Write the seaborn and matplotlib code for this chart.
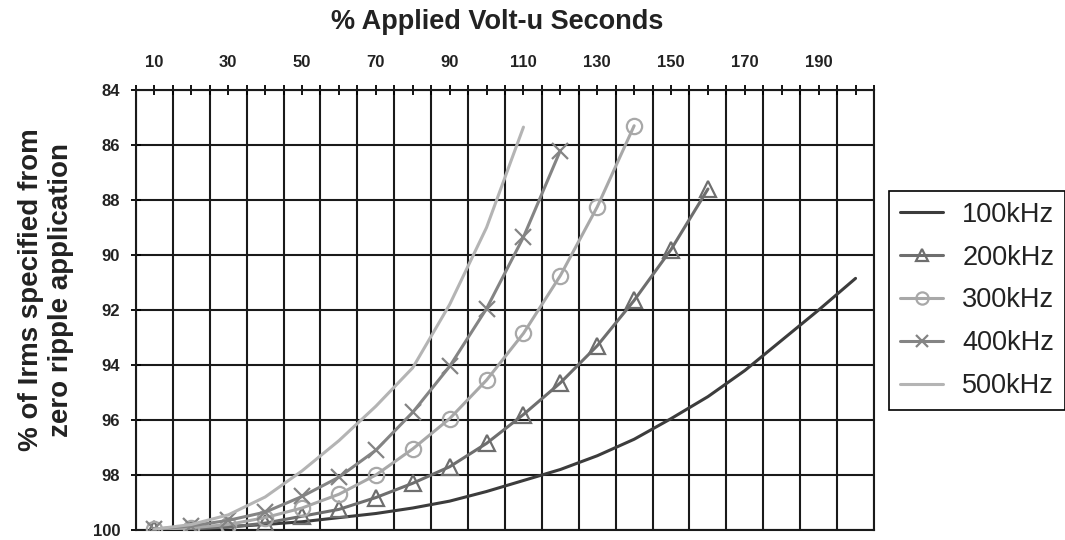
#!/usr/bin/env python3
import seaborn as sns
from matplotlib import pyplot as plt
from matplotlib.ticker import FixedLocator, FixedFormatter

# % applied volt-u seconds (category positions)
volt_seconds = [10, 20, 30, 40, 50, 60, 70, 80, 90, 100,
                110, 120, 130, 140, 150, 160, 170, 180, 190, 200]

# % of Irms specified from zero ripple application, per switching frequency
irms_100k = [100.0, 99.95, 99.88, 99.8, 99.7, 99.55, 99.4, 99.2, 98.95, 98.6,
             98.2, 97.8, 97.3, 96.7, 95.95, 95.15, 94.2, 93.1, 92.0, 90.85]
irms_200k = [99.95, 99.95, 99.9, 99.75, 99.5, 99.25, 98.82, 98.3, 97.7, 96.85,
             95.8, 94.65, 93.3, 91.65, 89.8, 87.6]
irms_300k = [99.98, 99.92, 99.8, 99.55, 99.2, 98.7, 98.0, 97.05, 95.95, 94.55,
             92.85, 90.75, 88.25, 85.3]
irms_400k = [99.97, 99.85, 99.65, 99.35, 98.78, 98.08, 97.1, 95.72, 94.05, 91.95,
             89.35, 86.2]
irms_500k = [99.97, 99.8, 99.45, 98.8, 97.85, 96.75, 95.5, 94.1, 91.8, 89.0,
             85.35]

series_names = ["100kHz", "200kHz", "300kHz", "400kHz", "500kHz"]
series_values = [irms_100k, irms_200k, irms_300k, irms_400k, irms_500k]
series_colors = ["#3c3c3c", "#6e6e6e", "#a8a8a8", "#848484", "#b4b4b4"]
series_markers = [None, "^", "o", "x", None]

x_tick_labels = ["10", "", "30", "", "50", "", "70", "", "90", "", "110", "",
                 "130", "", "150", "", "170", "", "190", ""]
y_ticks = [84, 86, 88, 90, 92, 94, 96, 98, 100]

sns.set_theme(style="white")
plt.rcParams["font.family"] = ["Liberation Sans", "DejaVu Sans"]

fig = plt.figure(figsize=(10.65, 5.4), dpi=100)
ax = fig.add_axes([136 / 1065, 10 / 540, 738 / 1065, 440 / 540])

for name, vals, col, mk in zip(series_names, series_values, series_colors, series_markers):
    xs = volt_seconds[:len(vals)]
    sns.lineplot(x=xs, y=vals, ax=ax, color=col, marker=mk, markersize=11,
                 markerfacecolor="none", markeredgecolor=col, markeredgewidth=1.6,
                 linewidth=2.2, label=name, zorder=3)

ax.set_xlim(5, 205)
ax.set_ylim(100, 84)

# top category axis
ax.xaxis.tick_top()
ax.xaxis.set_major_locator(FixedLocator(volt_seconds))
ax.xaxis.set_major_formatter(FixedFormatter(x_tick_labels))
ax.xaxis.set_minor_locator(FixedLocator(list(range(5, 210, 10))))
ax.set_yticks(y_ticks)
ax.tick_params(axis="x", which="both", direction="inout", length=7, width=1.3,
               color="black", top=True, bottom=False, labelsize=12, pad=11)
ax.tick_params(axis="y", direction="inout", length=7, width=1.3, color="black",
               left=True, labelsize=12, pad=8)
for lbl in ax.get_xticklabels() + ax.get_yticklabels():
    lbl.set_fontweight("bold")
    lbl.set_color("#222222")

ax.grid(True, which="minor", axis="x", color="#1a1a1a", linewidth=1.5)
ax.grid(True, which="major", axis="y", color="#1a1a1a", linewidth=1.5)
ax.grid(False, which="major", axis="x")
for sp in ax.spines.values():
    sp.set_visible(True)
    sp.set_color("#1a1a1a")
    sp.set_linewidth(1.5)
ax.set_xlabel("")
ax.set_ylabel("")

fig.text(497 / 1065, 1 - 22 / 540, "% Applied Volt-u Seconds", ha="center",
         va="center", fontsize=19.5, fontweight="bold", color="#222222")
fig.text(46 / 1065, 1 - 290 / 540, "% of Irms specified from\nzero ripple application",
         ha="center", va="center", rotation=90, fontsize=20, fontweight="bold",
         color="#222222", linespacing=1.2, multialignment="center")

leg = ax.legend(loc="upper left", bbox_to_anchor=(889 / 1065, 1 - 191 / 540),
                bbox_transform=fig.transFigure, fontsize=19.5, frameon=True,
                fancybox=False, edgecolor="black", framealpha=1, handlelength=1.6,
                labelspacing=0.62, borderpad=0.4, handletextpad=0.7, borderaxespad=0,
                markerscale=0.8)
leg.get_frame().set_linewidth(1.2)
for txt in leg.get_texts():
    txt.set_color("#222222")

fig.savefig("out.png", dpi=100)
